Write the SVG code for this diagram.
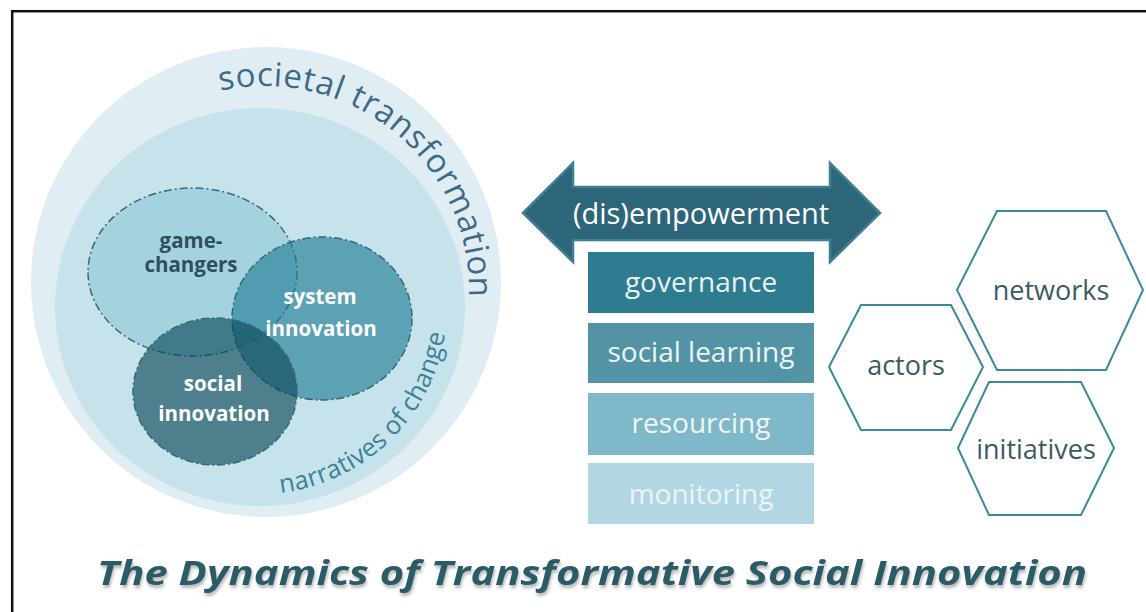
<svg xmlns="http://www.w3.org/2000/svg" width="1146" height="612" viewBox="0 0 1146 612">
  <style>
    .f { font-family: 'Open Sans', 'Noto Sans', 'Liberation Sans', sans-serif; }
    .venn { stroke: #35687a; stroke-width: 1.5; stroke-dasharray: 8 3 2 3; }
    .lblw { fill: #ffffff; font-weight: bold; font-size: 20.5px; text-anchor: middle; }
    .box text { font-size: 28px; text-anchor: middle; }
    .hex polygon { fill: #ffffff; stroke: #3b8a9b; stroke-width: 2; }
    .hex text { fill: #3c5a61; font-size: 27px; text-anchor: middle; }
  </style>
  <defs>
    <path id="arcTop" d="M 215.65 92.1 A 204 204 0 0 1 468.2 307.8"/>
    <path id="arcBot" d="M 278.65 492.97 A 188 188 0 0 0 446.3 322.4"/>
    <filter id="shadow" x="-5%" y="-30%" width="110%" height="170%">
      <feDropShadow dx="1" dy="3" stdDeviation="1.6" flood-color="#8a8a8a" flood-opacity="0.6"/>
    </filter>
  </defs>

  <rect width="1146" height="612" fill="#ffffff"/>
  <rect x="12.2" y="11.2" width="1200" height="700" fill="none" stroke="#111111" stroke-width="2.5"/>

  <g id="societal-transformation">
    <circle cx="266" cy="282" r="235" fill="#e0eef3"/>
    <text class="f" font-size="33" fill="#3c6a88"><textPath href="#arcTop" startOffset="5" textLength="372" lengthAdjust="spacing">societal transformation</textPath></text>
  </g>

  <g id="narratives-of-change">
    <ellipse cx="260" cy="307" rx="205" ry="199" fill="#c6e2ea"/>
    <text class="f" font-size="25.5" fill="#3a8299"><textPath href="#arcBot" startOffset="2" textLength="246" lengthAdjust="spacing">narratives of change</textPath></text>
  </g>

  <g id="game-changers">
    <ellipse class="venn" cx="192.5" cy="272" rx="104.5" ry="84" fill="#a4d3df"/>
  </g>
  <g id="system-innovation">
    <ellipse class="venn" cx="322" cy="318.5" rx="90" ry="81.5" fill="#257e97" fill-opacity="0.65"/>
  </g>
  <g id="social-innovation">
    <ellipse class="venn" cx="215" cy="391.5" rx="82" ry="73.5" fill="#0c4a5b" fill-opacity="0.65"/>
  </g>
  <g id="venn-labels" class="f">
    <text x="191" y="248" font-size="20.5" font-weight="bold" fill="#2f4f5c" text-anchor="middle">game-</text>
    <text x="191" y="272" font-size="20.5" font-weight="bold" fill="#2f4f5c" text-anchor="middle">changers</text>
    <text class="lblw" x="320" y="304">system</text>
    <text class="lblw" x="321" y="336">innovation</text>
    <text class="lblw" x="213" y="391">social</text>
    <text class="lblw" x="214" y="421">innovation</text>
  </g>

  <g id="empowerment-arrow">
    <polygon points="523,213 573,163 573,187 830,187 830,163 880,213 830,262 830,240 573,240 573,262" fill="#2c6678" stroke="#3f7f92" stroke-width="2.5" stroke-linejoin="miter"/>
    <text class="f" x="701" y="224" font-size="29" fill="#ffffff" text-anchor="middle">(dis)empowerment</text>
  </g>

  <g id="governance" class="box f">
    <rect x="588" y="252" width="226" height="61" fill="#2f7b8f"/>
    <text x="701" y="292" fill="#e8f1f3">governance</text>
  </g>
  <g id="social-learning" class="box f">
    <rect x="588" y="323" width="226" height="60" fill="#5294a6"/>
    <text x="701" y="362" fill="#edf4f6">social learning</text>
  </g>
  <g id="resourcing" class="box f">
    <rect x="588" y="393" width="226" height="62" fill="#7fb9c9"/>
    <text x="701" y="433" fill="#eef5f7">resourcing</text>
  </g>
  <g id="monitoring" class="box f">
    <rect x="588" y="463" width="226" height="61" fill="#b3d7e2"/>
    <text x="701" y="504" fill="#eaf4f7">monitoring</text>
  </g>

  <g id="networks" class="hex f">
    <polygon points="957,290 997,211 1106,211 1143,290 1106,370 997,370"/>
    <text x="1051" y="300">networks</text>
  </g>
  <g id="actors" class="hex f">
    <polygon points="829,367 861,305 951,305 983,367 951,430 861,430"/>
    <text x="906" y="375">actors</text>
  </g>
  <g id="initiatives" class="hex f">
    <polygon points="958,448 989,382 1081,382 1114,448 1081,515 989,515"/>
    <text x="1036" y="459">initiatives</text>
  </g>

  <g id="connectors"></g>

  <g id="title">
    <text class="f" x="592" y="585" font-size="34" font-weight="bold" font-style="italic" fill="#2b5b67" text-anchor="middle" textLength="990" lengthAdjust="spacingAndGlyphs" filter="url(#shadow)">The Dynamics of Transformative Social Innovation</text>
  </g>
</svg>
